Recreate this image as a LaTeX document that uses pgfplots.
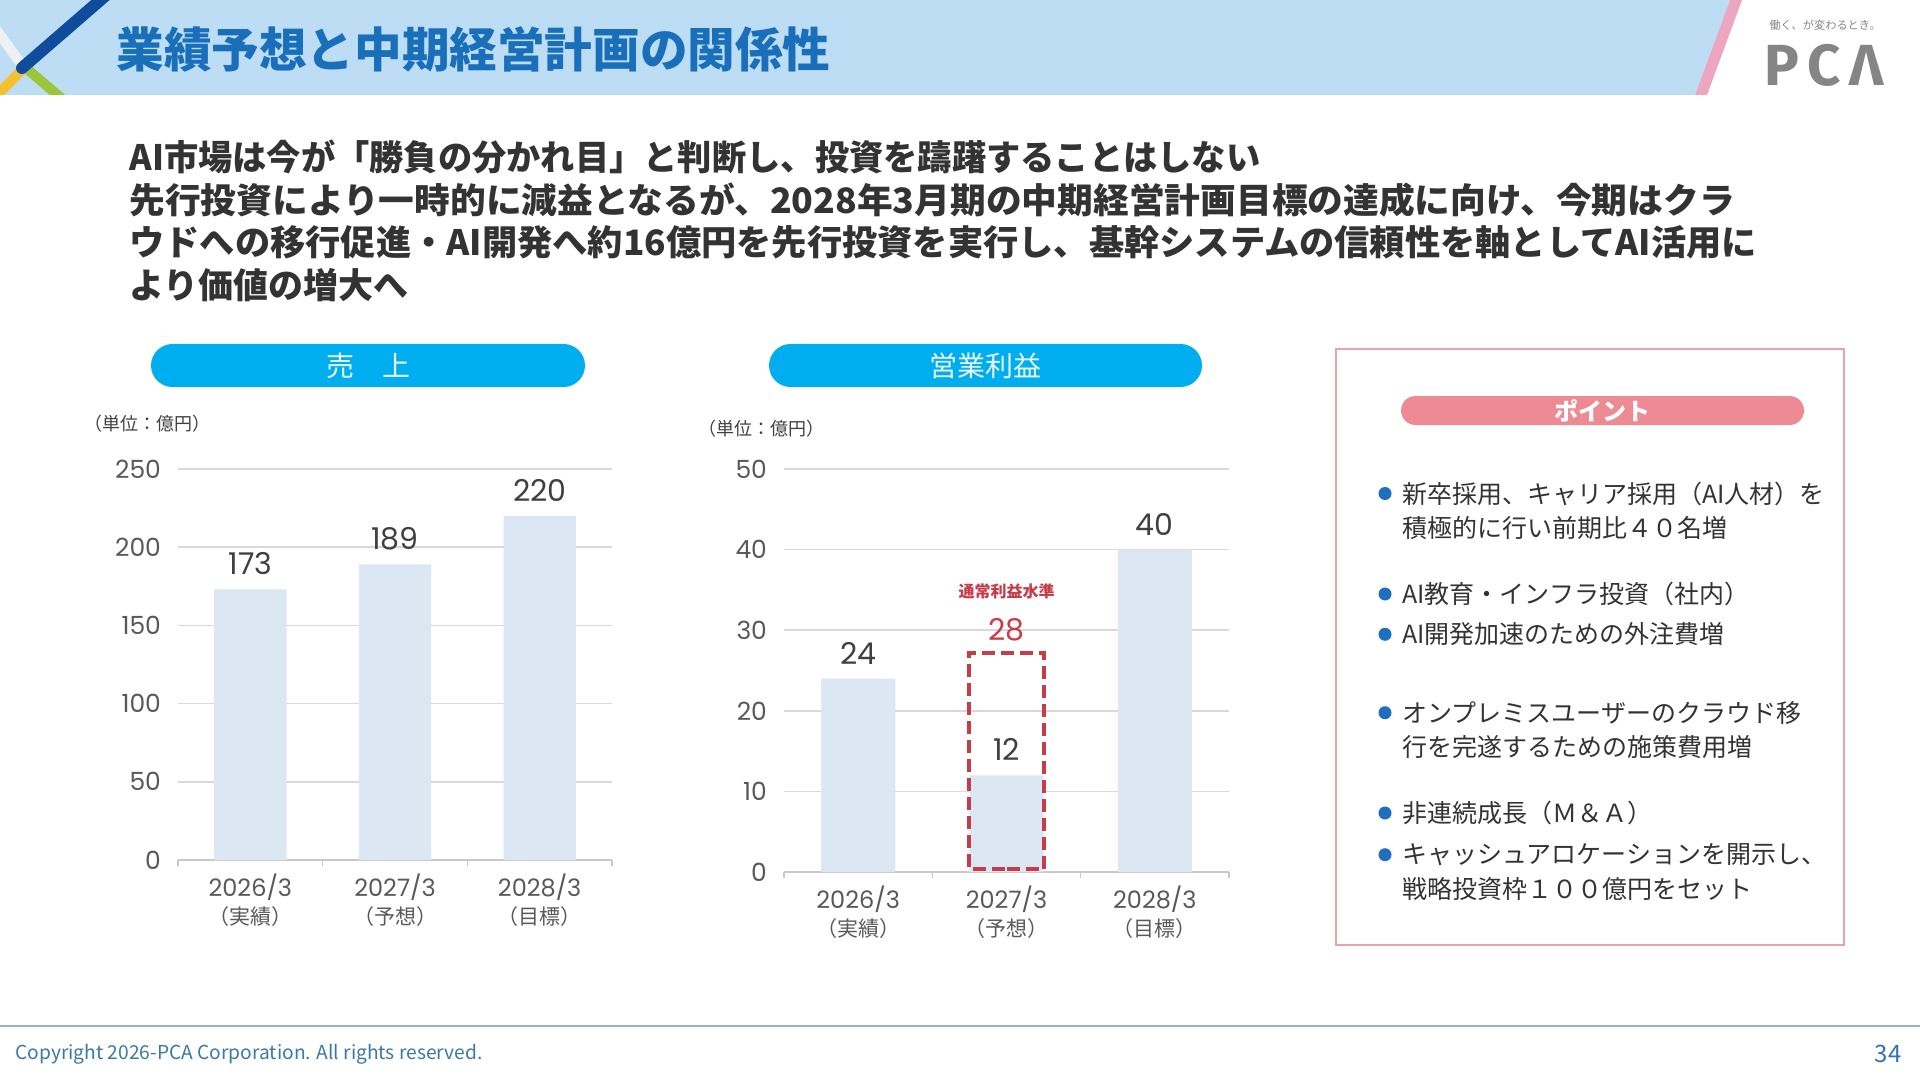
\documentclass[border=0pt]{standalone}
\usepackage{fontspec}
\usepackage{graphicx}
\usepackage{pgfplots}
\pgfplotsset{compat=1.18}
\setmainfont{Noto Sans CJK JP}
\newfontfamily\numfont{Poppins}
\newfontfamily\logofont{Fira Sans}[LetterSpace=15]
\definecolor{hdr}{HTML}{BDDDF4}
\definecolor{stripe}{HTML}{EDA6BF}
\definecolor{titlec}{HTML}{1A6FBA}
\definecolor{subc}{HTML}{333333}
\definecolor{pillc}{HTML}{00AEEF}
\definecolor{pilltext}{HTML}{EAF8FF}
\definecolor{barc}{HTML}{DCE7F4}
\definecolor{gridc}{HTML}{D9D9D9}
\definecolor{axisc}{HTML}{C8C8C8}
\definecolor{tickc}{HTML}{595959}
\definecolor{valc}{HTML}{404040}
\definecolor{unitc}{HTML}{404040}
\definecolor{redc}{HTML}{C83C4A}
\definecolor{ptpill}{HTML}{EE8A94}
\definecolor{ptborder}{HTML}{E8A3AB}
\definecolor{bulletc}{HTML}{1F6FBF}
\definecolor{footc}{HTML}{9BB3C4}
\definecolor{copyc}{HTML}{3A7AA5}
\definecolor{pagec}{HTML}{2E75B6}
\definecolor{logoc}{HTML}{858585}
\definecolor{dblue}{HTML}{0F4C9C}
\definecolor{yel}{HTML}{F4C02F}
\definecolor{grn}{HTML}{9DC53B}
\definecolor{wline}{HTML}{EEF0F2}
\newcommand\jps{\normalfont\fontsize{10.5}{14}\selectfont}
\pgfplotsset{
  slide/.style={
    scale only axis, anchor=south west,
    xmin=-0.5, xmax=2.5, ymin=0,
    xtick={0,1,2},
    xticklabels={{2026/3\\\jps（実績）},{2027/3\\\jps（予想）},{2028/3\\\jps（目標）}},
    minor xtick={-0.5,0.5,1.5,2.5},
    major tick length=0pt, minor tick length=3pt, tick align=outside,
    minor tick style={draw=axisc, line width=0.75pt},
    axis lines*=left,
    y axis line style={draw=none},
    x axis line style={draw=axisc, line width=0.75pt},
    ymajorgrids, major grid style={draw=gridc, line width=0.75pt},
    /pgf/number format/assume math mode=true,
    yticklabel style={font=\numfont\fontsize{12.5}{13}\selectfont, text=tickc, xshift=-5pt},
    xticklabel style={font=\numfont\fontsize{12}{14}\selectfont, text=tickc, align=center, yshift=-3.5pt},
    clip=false,
  },
  vals/.style={nodes near coords, nodes near coords style={font=\numfont\fontsize{15}{15}\selectfont, text=valc, anchor=south, inner sep=0pt, yshift=7pt}},
}
\begin{document}
\begin{tikzpicture}
\begin{scope}[x=0.5pt,y=-0.5pt]
\path[use as bounding box, fill=white] (0,0) rectangle (1920,1080);
% header
\fill[hdr] (0,0) -- (1730,0) -- (1695,95) -- (0,95) -- cycle;
\fill[stripe] (1730,0) -- (1742,0) -- (1707,95) -- (1695,95) -- cycle;
\begin{scope}
\clip (0,0) rectangle (300,95);
\draw[wline, line width=5pt] (-10,21) -- (24,68);
\draw[yel, line width=5pt] (24,68) -- (-10,102);
\draw[grn, line width=5pt] (26,68) -- (75,110);
\draw[dblue, line width=6pt, line cap=round] (22,68) -- (112,-10);
\end{scope}
\node[anchor=west, inner sep=0pt, text=titlec, font=\bfseries\fontsize{23.8}{28}\selectfont] at (116,49) {業績予想と中期経営計画の関係性};
% logo
\node[inner sep=0pt, text=logoc, font=\fontsize{5.6}{6}\selectfont] at (1825,25) {働く、が変わるとき。};
\node[inner sep=0pt, text=logoc, font=\logofont\bfseries\fontsize{29}{29}\selectfont] at (1824,65) {PCΛ};
% subtitle
\begin{scope}[every node/.style={anchor=west, inner sep=0pt, text=subc, font=\bfseries\fontsize{17.5}{21}\selectfont}]
\node at (129,157) {\scalebox{0.979}[1]{AI市場は今が「勝負の分かれ目」と判断し、投資を躊躇することはしない}};
\node at (129,200) {\scalebox{1.021}[1]{先行投資により一時的に減益となるが、2028年3月期の中期経営計画目標の達成に向け、今期はクラ}};
\node at (129,242) {\scalebox{1.007}[1]{ウドへの移行促進・AI開発へ約16億円を先行投資を実行し、基幹システムの信頼性を軸としてAI活用に}};
\node at (129,285) {より価値の増大へ};
\end{scope}
% pills
\fill[pillc, rounded corners=10.75pt] (151,344) rectangle (585,387);
\node[inner sep=0pt, text=pilltext, font=\fontsize{14}{14}\selectfont] at (368,366) {売　上};
\fill[pillc, rounded corners=10.75pt] (769,344) rectangle (1202,387);
\node[inner sep=0pt, text=pilltext, font=\fontsize{14}{14}\selectfont] at (985.5,366) {営業利益};
\node[anchor=west, inner sep=0pt, text=unitc, font=\fontsize{9}{9}\selectfont] at (84,424) {（単位：億円）};
\node[anchor=west, inner sep=0pt, text=unitc, font=\fontsize{9}{9}\selectfont] at (698,429) {（単位：億円）};
% points box
\draw[ptborder, line width=1pt] (1336,349) rectangle (1844,945);
\fill[ptpill, rounded corners=7.25pt] (1401,396) rectangle (1804,425);
\node[inner sep=0pt, text=white, font=\bfseries\fontsize{12}{12}\selectfont] at (1602,411) {ポイント};
\foreach \yy in {493.5,594,634.3,712.7,813,854.7} {\fill[bulletc] (1385,\yy) circle (3.25pt);}
\begin{scope}[every node/.style={anchor=west, inner sep=0pt, text=subc, font=\fontsize{12.5}{15}\selectfont}]
\node at (1402,493.5) {新卒採用、キャリア採用（AI人材）を};
\node at (1402,527.8) {積極的に行い前期比４０名増};
\node at (1402,594) {AI教育・インフラ投資（社内）};
\node at (1402,634.3) {AI開発加速のための外注費増};
\node at (1402,712.7) {オンプレミスユーザーのクラウド移};
\node at (1402,747) {行を完遂するための施策費用増};
\node at (1402,813) {非連続成長（Ｍ＆Ａ）};
\node at (1402,854.7) {キャッシュアロケーションを開示し、};
\node at (1402,889) {戦略投資枠１００億円をセット};
\end{scope}
% footer
\draw[footc, line width=1pt] (0,1026) -- (1920,1026);
\node[anchor=west, inner sep=0pt, text=copyc, font=\fontsize{9.6}{10}\selectfont] at (15,1054) {Copyright 2026-PCA Corporation. All rights reserved.};
\node[inner sep=0pt, text=pagec, font=\fontsize{12}{12}\selectfont] at (1888,1054) {34};
\end{scope}
% sales chart
\begin{axis}[slide, at={(89pt,-430pt)}, width=217pt, height=195.5pt, ymax=250, ytick={0,50,...,250}]
\addplot[ybar, bar width=0.5, bar shift=0pt, fill=barc, draw=none, vals] coordinates {(0,173) (1,189) (2,220)};
\end{axis}
% operating profit chart
\begin{axis}[slide, at={(392pt,-436pt)}, width=222.5pt, height=201.5pt, ymax=50, ytick={0,10,...,50}]
\addplot[ybar, bar width=0.5, bar shift=0pt, fill=barc, draw=none, vals] coordinates {(0,24) (1,12) (2,40)};
\addplot[draw=redc, line width=2pt, dash pattern=on 6.5pt off 3pt, line join=miter] coordinates {(1,0.35) (1.256,0.35) (1.256,27.2) (0.744,27.2) (0.744,0.35) (1,0.35)};
\addplot[draw=none, nodes near coords, nodes near coords style={font=\numfont\fontsize{15}{15}\selectfont, text=redc, anchor=south, inner sep=0pt, yshift=2.5pt}] coordinates {(1,28)};
\addplot[draw=none, nodes near coords, point meta=explicit symbolic, nodes near coords style={font=\bfseries\fontsize{8}{8}\selectfont, text=redc, anchor=center, inner sep=0pt, yshift=27.5pt}] coordinates {(1,28) [通常利益水準]};
\end{axis}
\end{tikzpicture}
\end{document}
